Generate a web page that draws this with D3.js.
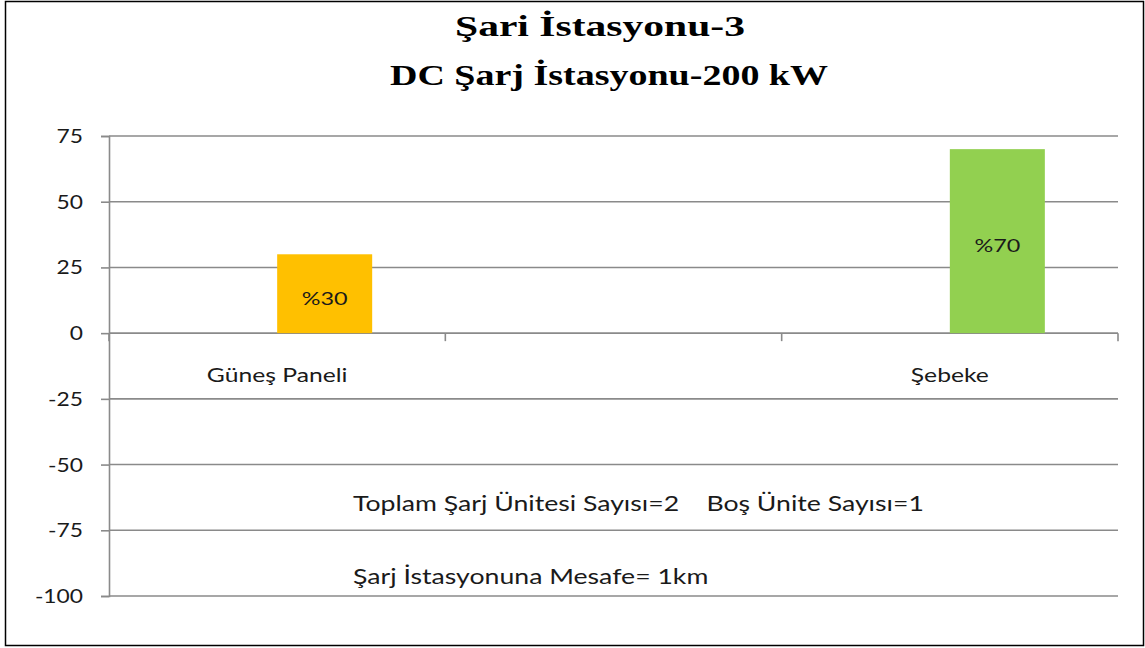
<!DOCTYPE html>
<html>
<head>
<meta charset="utf-8">
<script src="https://cdn.jsdelivr.net/npm/d3@7"></script>
<style>
  body { margin: 0; background: #fff; }
  svg text { font-family: Lato, "Open Sans", sans-serif; fill: #1a1a1a; }
</style>
</head>
<body>
<svg id="chart" width="1145" height="648"></svg>
<script>
const categories = ["Güneş Paneli", "", "Şebeke"];
const series_names = ["Seri 1", "Seri 2"];
const series1 = [null, null, null];
const series2 = [30, null, 70];
const point_labels = ["%30", "", "%70"];
const y_ticks = [-100, -75, -50, -25, 0, 25, 50, 75];
const title_lines = ["Şari İstasyonu-3", "DC Şarj İstasyonu-200 kW"];
const notes = ["Toplam Şarj Ünitesi Sayısı=2    Boş Ünite Sayısı=1", "Şarj İstasyonuna Mesafe= 1km"];

const svg = d3.select("#chart");
const width = 1145, height = 648;
const margins = {top: 136, bottom: 52, left: 109, right: 27};
const stretch = 1.3; // the picture is wider than it is tall, text looks stretched

// puts a text at (x, y) and widens it horizontally around its anchor
const place = function(sel, fx, fy, sx) {
  sel.attr("transform", (d, i) => `translate(${fx(d, i)}, ${fy(d, i)}) scale(${sx}, 1)`);
};

// outer chart border
svg.append("rect")
  .attr("x", 5.5).attr("y", 1.5)
  .attr("width", 1138).attr("height", 644)
  .attr("fill", "none").attr("stroke", "#000").attr("stroke-width", 1.5);

// title
svg.selectAll(".title")
  .data(title_lines)
  .enter()
  .append("text")
  .attr("class", "title")
  .attr("x", (d, i) => i == 0 ? 600 : 609)
  .attr("y", (d, i) => 36 + i * 49)
  .attr("text-anchor", "middle")
  .attr("textLength", (d, i) => i == 0 ? 290 : 438)
  .attr("lengthAdjust", "spacingAndGlyphs")
  .style("font-family", "'Liberation Serif', 'DejaVu Serif', serif")
  .style("font-weight", "bold")
  .style("font-size", "30px")
  .style("fill", "#000")
  .text(d => d);

const y_scale = d3.scaleLinear()
  .domain([-100, 75])
  .range([596, margins.top]);

const x_scale = d3.scaleBand()
  .domain(categories.map((d, i) => i))
  .range([margins.left, width - margins.right])
  .paddingInner(0.435)
  .paddingOuter(0.2175);

const x_inner = d3.scaleBand()
  .domain(series_names)
  .range([0, x_scale.bandwidth()]);

const x_edges = d3.scaleLinear()
  .domain([0, categories.length])
  .range([margins.left, width - margins.right]);

const chart = svg.append("g");

// gridlines
chart.selectAll(".grid")
  .data(y_ticks)
  .enter()
  .append("line")
  .attr("x1", margins.left)
  .attr("x2", width - margins.right)
  .attr("y1", d => y_scale(d))
  .attr("y2", d => y_scale(d))
  .attr("stroke", "#8a8a8a")
  .attr("stroke-width", 1.6);

// y axis
const yAxis = d3.axisLeft(y_scale)
  .tickValues(y_ticks)
  .tickSize(8)
  .tickPadding(18)
  .tickFormat(d => String(d));

const y_axis = chart.append("g")
  .attr("transform", `translate(${margins.left}, 0)`)
  .call(yAxis);
y_axis.select(".domain").attr("stroke", "#8a8a8a").attr("stroke-width", 1.6);
y_axis.selectAll(".tick line").attr("stroke", "#8a8a8a").attr("stroke-width", 1.6);
y_axis.selectAll(".tick text")
  .style("font-size", "19px")
  .style("font-family", "Lato, sans-serif")
  .attr("fill", "#1a1a1a")
  .attr("x", null)
  .attr("dy", null)
  .call(place, () => -26, () => 6.5, 1.2);

// category tick marks on the zero line
chart.selectAll(".cat-tick")
  .data(d3.range(categories.length + 1))
  .enter()
  .append("line")
  .attr("x1", d => x_edges(d))
  .attr("x2", d => x_edges(d))
  .attr("y1", y_scale(0))
  .attr("y2", y_scale(0) + 8)
  .attr("stroke", "#8a8a8a")
  .attr("stroke-width", 1.6);

// bars
const colorBars = function(i) {
  if (i == 0) {
    return "#FFC000";
  }
  return "#92D050";
};

const bar_data = [];
categories.forEach((c, i) => {
  bar_data.push({cat: i, series: series_names[0], value: series1[i], label: ""});
  bar_data.push({cat: i, series: series_names[1], value: series2[i], label: point_labels[i]});
});

const bars = chart.selectAll(".bar")
  .data(bar_data.filter(d => d.value !== null))
  .enter()
  .append("g");

bars.append("rect")
  .attr("class", "bar")
  .attr("x", d => x_scale(d.cat) + x_inner(d.series))
  .attr("width", x_inner.bandwidth())
  .attr("y", d => y_scale(d.value))
  .attr("height", d => y_scale(0) - y_scale(d.value))
  .style("fill", d => colorBars(d.cat));

bars.append("text")
  .attr("text-anchor", "middle")
  .style("font-size", "18px")
  .text(d => d.label)
  .call(place,
    d => x_scale(d.cat) + x_inner(d.series) + x_inner.bandwidth() / 2,
    d => (y_scale(d.value) + y_scale(0)) / 2 + 11,
    stretch);

// category labels under the zero line
chart.selectAll(".cat-label")
  .data(categories)
  .enter()
  .append("text")
  .attr("text-anchor", "middle")
  .style("font-size", "19px")
  .text(d => d)
  .call(place, (d, i) => x_scale(i) + x_scale.bandwidth() / 2, () => y_scale(0) + 49, stretch);

// notes
chart.selectAll(".note")
  .data(notes)
  .enter()
  .append("text")
  .style("font-size", "20.5px")
  .style("white-space", "pre")
  .attr("xml:space", "preserve")
  .text(d => d)
  .call(place, () => 353, (d, i) => 511 + i * 73, stretch);
</script>
</body>
</html>
